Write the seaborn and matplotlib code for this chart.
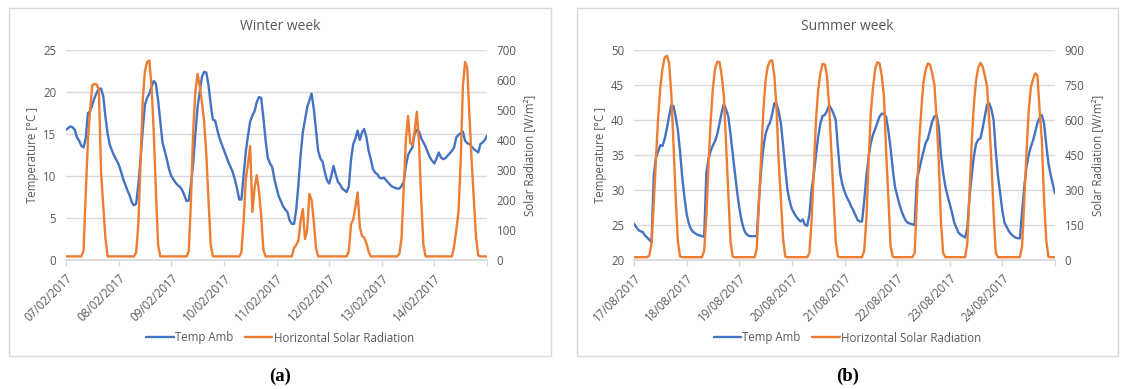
import pandas as pd
import matplotlib.pyplot as plt
import matplotlib.dates as mdates
from matplotlib.patches import Rectangle
import seaborn as sns

# hourly readings, one row per day, plus the closing midnight value
winter_temp = [
    15.5, 15.7, 15.9, 15.8, 15.5, 14.6, 14.2, 13.6, 13.4, 14.5, 17.5, 17.7, 18.5, 19.3, 19.9, 20.4, 20.4, 19.5, 17.0, 15.0, 13.7, 13.0, 12.4, 11.9,
    11.4, 10.6, 9.7, 9.0, 8.3, 7.7, 6.9, 6.5, 6.7, 9.0, 12.0, 15.5, 18.5, 19.3, 19.8, 20.6, 21.3, 21.0, 19.0, 16.5, 14.0, 13.0, 12.0, 10.8,
    10.0, 9.6, 9.2, 8.9, 8.7, 8.3, 7.7, 7.0, 7.1, 9.0, 11.5, 15.0, 18.2, 20.0, 21.8, 22.4, 22.3, 20.8, 18.5, 16.7, 16.6, 15.5, 14.5, 13.8,
    13.1, 12.4, 11.7, 11.1, 10.5, 9.6, 8.5, 7.2, 7.2, 10.0, 12.9, 14.8, 16.5, 17.2, 17.7, 18.8, 19.4, 19.3, 17.0, 14.3, 12.2, 11.5, 11.1, 9.7,
    8.6, 7.6, 7.0, 6.4, 6.0, 5.7, 4.7, 4.3, 4.3, 6.0, 9.0, 12.5, 15.2, 16.7, 18.2, 19.0, 19.8, 18.0, 15.5, 13.0, 12.1, 11.7, 10.5, 9.5,
    9.1, 10.0, 11.2, 10.2, 9.3, 9.0, 8.5, 8.3, 8.1, 8.8, 12.0, 13.8, 14.5, 15.4, 14.3, 15.2, 15.6, 14.6, 13.0, 12.0, 10.8, 10.4, 10.2, 9.8,
    9.7, 9.8, 9.5, 9.2, 8.9, 8.7, 8.6, 8.5, 8.5, 8.8, 9.3, 11.2, 12.5, 13.0, 13.4, 15.0, 15.5, 15.3, 14.5, 14.0, 13.5, 12.8, 12.2, 11.8,
    11.5, 12.1, 12.8, 12.2, 12.0, 12.1, 12.4, 12.7, 13.0, 13.4, 14.6, 14.9, 15.1, 15.3, 14.2, 13.9, 13.8, 13.5, 13.2, 13.0, 12.8, 13.8, 14.0, 14.3,
    14.8,
]
winter_solar = [
    12, 12, 12, 12, 12, 12, 12, 12, 30, 220, 400, 500, 583, 587, 585, 567, 290, 178, 70, 12, 12, 12, 12, 12,
    12, 12, 12, 12, 12, 12, 12, 12, 25, 120, 330, 533, 630, 660, 665, 580, 430, 230, 50, 12, 12, 12, 12, 12,
    12, 12, 12, 12, 12, 12, 12, 12, 30, 200, 430, 560, 620, 580, 525, 460, 350, 200, 50, 12, 12, 12, 12, 12,
    12, 12, 12, 12, 12, 12, 12, 12, 25, 130, 270, 320, 380, 160, 240, 283, 230, 150, 35, 12, 12, 12, 12, 12,
    12, 12, 12, 12, 12, 12, 12, 12, 40, 50, 65, 130, 170, 70, 100, 220, 200, 130, 40, 12, 12, 12, 12, 12,
    12, 12, 12, 12, 12, 12, 12, 12, 12, 30, 120, 135, 178, 225, 110, 80, 75, 56, 28, 12, 12, 12, 12, 12,
    12, 12, 12, 12, 12, 12, 12, 12, 20, 70, 233, 400, 480, 390, 383, 430, 494, 390, 200, 50, 12, 12, 12, 12,
    12, 12, 12, 12, 12, 12, 12, 12, 12, 45, 100, 160, 330, 580, 660, 640, 480, 330, 200, 75, 15, 12, 12, 12,
    12,
]
summer_temp = [
    25.2, 24.7, 24.3, 24.1, 24.0, 23.5, 23.2, 22.9, 22.5, 32.0, 34.6, 35.5, 36.4, 36.3, 37.3, 38.8, 40.5, 42.1, 42.0, 40.5, 38.6, 35.5, 31.8, 29.0,
    26.6, 25.2, 24.4, 24.0, 23.8, 23.6, 23.5, 23.4, 23.3, 32.4, 34.5, 35.6, 36.4, 37.0, 38.0, 39.5, 41.1, 42.3, 41.5, 40.5, 38.0, 35.2, 32.5, 29.8,
    27.5, 25.7, 24.5, 23.8, 23.5, 23.4, 23.4, 23.4, 23.4, 28.6, 33.0, 36.0, 38.0, 39.0, 39.6, 40.8, 42.4, 42.3, 41.2, 39.5, 36.4, 33.0, 30.0, 28.4,
    27.3, 26.7, 26.2, 25.8, 25.5, 25.8, 25.0, 24.9, 26.5, 30.0, 32.2, 35.0, 37.6, 39.5, 40.6, 40.7, 41.3, 42.1, 41.6, 40.9, 40.0, 36.0, 32.5, 30.8,
    29.8, 29.0, 28.4, 27.7, 27.1, 26.4, 25.7, 25.5, 25.5, 28.5, 32.0, 34.8, 36.7, 37.9, 38.7, 39.6, 40.5, 40.9, 40.9, 40.4, 38.5, 36.0, 33.0, 30.5,
    29.2, 28.0, 27.0, 26.2, 25.6, 25.3, 25.2, 25.1, 25.0, 31.5, 32.8, 34.2, 35.5, 36.7, 37.3, 38.5, 39.8, 40.5, 40.7, 39.0, 35.0, 32.4, 30.5, 29.2,
    28.0, 26.8, 25.4, 24.6, 23.9, 23.6, 23.4, 23.2, 24.5, 29.0, 32.0, 34.8, 36.6, 37.2, 37.4, 38.8, 40.5, 42.2, 42.4, 41.5, 40.0, 35.5, 32.0, 29.5,
    27.0, 25.3, 24.7, 24.1, 23.7, 23.4, 23.2, 23.1, 23.1, 27.0, 30.5, 33.3, 35.0, 36.2, 37.1, 38.3, 39.6, 40.3, 40.7, 39.5, 36.5, 33.8, 32.2, 30.8,
    29.5,
]
summer_solar = [
    12, 12, 12, 12, 12, 12, 12, 20, 70, 240, 430, 610, 740, 820, 868, 875, 845, 714, 500, 270, 80, 15, 12, 12,
    12, 12, 12, 12, 12, 12, 12, 12, 40, 190, 410, 600, 740, 820, 850, 848, 790, 700, 500, 290, 80, 15, 12, 12,
    12, 12, 12, 12, 12, 12, 12, 12, 50, 250, 460, 640, 770, 830, 852, 856, 790, 650, 420, 260, 90, 15, 12, 12,
    12, 12, 12, 12, 12, 12, 12, 12, 30, 170, 390, 600, 730, 800, 840, 838, 790, 660, 460, 270, 80, 15, 12, 12,
    12, 12, 12, 12, 12, 12, 12, 12, 12, 40, 180, 420, 630, 740, 820, 848, 842, 790, 700, 460, 270, 60, 14, 12,
    12, 12, 12, 12, 12, 12, 12, 12, 30, 250, 500, 640, 760, 815, 842, 838, 800, 750, 610, 420, 160, 30, 12, 12,
    12, 12, 12, 12, 12, 12, 12, 12, 70, 280, 500, 665, 770, 825, 845, 830, 790, 745, 600, 420, 200, 30, 12, 12,
    12, 12, 12, 12, 12, 12, 12, 12, 12, 60, 260, 460, 640, 740, 775, 800, 790, 640, 514, 257, 86, 14, 12, 12,
    12,
]

series_names = ["Temp Amb", "Horizontal Solar Radiation"]
temp_label = "Temperature [°C ]"
solar_label = "Solar Radiation [W/m²]"

blue = "#4472C4"
orange = "#ED7D31"
txt = "#595959"
light = "#d9d9d9"
fs = 8.3

sns.set_theme(style="white")
plt.rcParams["font.family"] = ["Open Sans", "DejaVu Sans"]

W, H = 1122, 389
fig = plt.figure(figsize=(W / 100, H / 100), dpi=100)


def panel(frame, area, start, temp, solar, title, t_lim, t_step, s_lim, s_step, letter):
    times = pd.date_range(start, periods=len(temp), freq="h")
    df = pd.DataFrame({"time": times, "temp": temp, "solar": solar})

    x0, y0, x1, y1 = area
    ax = fig.add_axes([x0 / W, 1 - y1 / H, (x1 - x0) / W, (y1 - y0) / H])
    ax2 = ax.twinx()

    sns.lineplot(data=df, x="time", y="temp", ax=ax, color=blue, linewidth=1.7,
                 label=series_names[0], legend=False)
    sns.lineplot(data=df, x="time", y="solar", ax=ax2, color=orange, linewidth=1.7,
                 label=series_names[1], legend=False)

    days = pd.date_range(start, periods=9, freq="D")
    ax.set_xlim(mdates.date2num(times[0]), mdates.date2num(times[-1]))
    ax.set_xticks(mdates.date2num(days.to_pydatetime()))
    ax.set_xticklabels([d.strftime("%d/%m/%Y") for d in days[:-1]] + [""],
                       rotation=45, ha="right", va="top", rotation_mode="anchor")

    ax.set_ylim(*t_lim)
    ax.set_yticks(range(t_lim[0], t_lim[1] + 1, t_step))
    ax2.set_ylim(*s_lim)
    ax2.set_yticks(range(s_lim[0], s_lim[1] + 1, s_step))

    ax.set_xlabel("")
    ax2.set_xlabel("")
    ax.set_ylabel(temp_label, color=txt, fontsize=fs, labelpad=3)
    ax2.set_ylabel(solar_label, color=txt, fontsize=fs, labelpad=5)

    ax.yaxis.grid(True, color=light, linewidth=1)
    ax.xaxis.grid(False)
    ax.set_axisbelow(True)
    for s in ["top", "left", "right"]:
        ax.spines[s].set_visible(False)
    ax.spines["bottom"].set_color(light)
    for s in ax2.spines.values():
        s.set_visible(False)

    ax.tick_params(axis="y", length=0, pad=7, labelsize=fs, labelcolor=txt)
    ax2.tick_params(axis="y", right=True, length=0, pad=7, labelsize=fs, labelcolor=txt)
    ax.tick_params(axis="x", bottom=True, length=4, width=1, color=light,
                   direction="out", pad=4.5, labelsize=fs, labelcolor=txt)

    h1, l1 = ax.get_legend_handles_labels()
    h2, l2 = ax2.get_legend_handles_labels()

    bx0, by0, bx1, by1 = frame
    cx = (bx0 + bx1) / 2 / W
    fig.add_artist(Rectangle((bx0 / W, 1 - by1 / H), (bx1 - bx0) / W, (by1 - by0) / H,
                             transform=fig.transFigure, fill=False, edgecolor=light, linewidth=1))
    fig.text(cx, 1 - 26 / H, title, ha="center", va="center", fontsize=10, color=txt)
    fig.legend(h1 + h2, l1 + l2, loc="center", bbox_to_anchor=(cx, 1 - 338 / H), ncol=2,
               frameon=False, fontsize=fs, handlelength=2.4, handletextpad=0.1,
               columnspacing=1.0, labelcolor=txt)
    fig.text(cx, 1 - 376 / H, letter, ha="center", va="center", fontsize=13.5,
             fontweight="bold", family=["Liberation Serif", "DejaVu Serif"], color="black")


panel((9, 8, 551, 356), (66, 50, 487, 260), "2017-02-07", winter_temp, winter_solar,
      "Winter week", (0, 25), 5, (0, 700), 100, "(a)")
panel((577, 8, 1118, 356), (634, 50, 1055, 260), "2017-08-17", summer_temp, summer_solar,
      "Summer week", (20, 50), 5, (0, 900), 150, "(b)")

fig.savefig("out.png", dpi=100)
